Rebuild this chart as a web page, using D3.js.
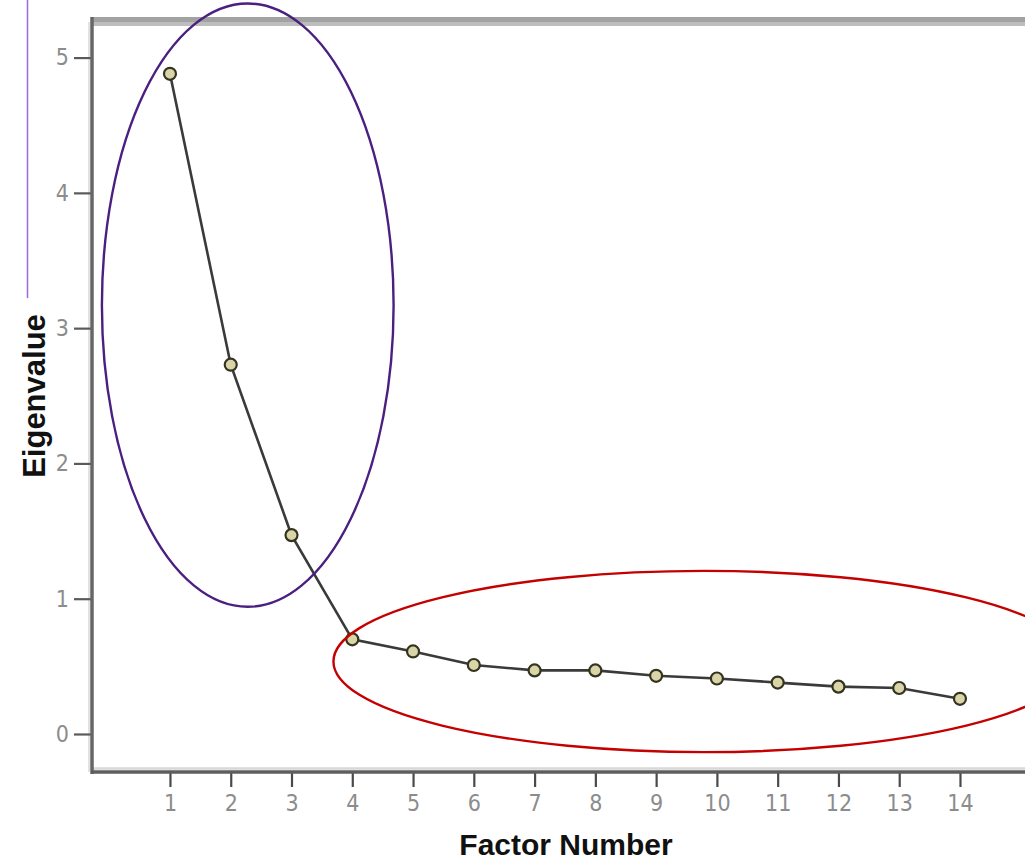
<!DOCTYPE html>
<html>
<head>
<meta charset="utf-8">
<script src="https://cdn.jsdelivr.net/npm/d3@7"></script>
<style>
  body { margin: 0; background: #fff; }
  svg { display: block; }
</style>
</head>
<body>
<svg id="chart" width="1025" height="860"></svg>
<script>
// scree plot data
var factors = [1, 2, 3, 4, 5, 6, 7, 8, 9, 10, 11, 12, 13, 14];
var eigenvalues = [4.88, 2.73, 1.47, 0.70, 0.61, 0.51, 0.47, 0.47, 0.43, 0.41, 0.38, 0.35, 0.34, 0.26];
var yTicks = [0, 1, 2, 3, 4, 5];

// the two circled groups (center + radii in data units)
var groupCx = [2.28, 9.79];
var groupCy = [3.17, 0.536];
var groupRx = [2.40, 6.10];
var groupRy = [2.23, 0.67];
var groupColors = ["#4a1f80", "#c40000"];

var svg = d3.select("#chart");

// plot frame in pixels (note: "top" is taken by window.top, so don't use it)
var pLeft = 92, pRight = 1025, pTop = 17, pBottom = 772;

var x = d3.scaleLinear().domain([-0.283, 15.07]).range([pLeft, pRight]);
var y = d3.scaleLinear().domain([-0.281, 5.30]).range([pBottom, pTop]);

var tickFont = "'DejaVu Sans Condensed', 'Liberation Sans Narrow', Arial, sans-serif";

// little purple line on far left (leftover from the source image)
svg.append("line")
  .attr("x1", 27.5).attr("x2", 27.5)
  .attr("y1", 0).attr("y2", 298)
  .attr("stroke", "#9a6ad6").attr("stroke-width", 1.5);

// top border, two shades of gray
svg.append("rect").attr("x", pLeft - 1).attr("y", pTop).attr("width", pRight - pLeft + 1).attr("height", 5).attr("fill", "#a2a2a2");
svg.append("rect").attr("x", pLeft - 1).attr("y", pTop + 5).attr("width", pRight - pLeft + 1).attr("height", 4).attr("fill", "#bdbdbd");

// light halo lines next to axes
svg.append("line").attr("x1", pLeft - 3).attr("x2", pLeft - 3).attr("y1", pTop + 5).attr("y2", pBottom)
  .attr("stroke", "#e2e2e2").attr("stroke-width", 2);
svg.append("line").attr("x1", pLeft).attr("x2", pRight).attr("y1", pBottom - 3.5).attr("y2", pBottom - 3.5)
  .attr("stroke", "#d8d8d8").attr("stroke-width", 2.5);

// y axis
var yAxis = svg.append("g")
  .attr("transform", "translate(" + pLeft + ",0)")
  .call(d3.axisLeft(y).tickValues(yTicks).tickSize(18).tickPadding(5).tickFormat(d3.format("d")));
yAxis.select(".domain").remove();
yAxis.selectAll(".tick line").attr("stroke", "#5a5a5a").attr("stroke-width", 2.2);
yAxis.selectAll(".tick text")
  .attr("fill", "#8c8c8c")
  .style("font-family", tickFont)
  .style("font-size", "23px");

// x axis
var xAxis = svg.append("g")
  .attr("transform", "translate(0," + pBottom + ")")
  .call(d3.axisBottom(x).tickValues(factors).tickSize(15).tickPadding(8).tickFormat(d3.format("d")));
xAxis.select(".domain").remove();
xAxis.selectAll(".tick line").attr("stroke", "#4a4a4a").attr("stroke-width", 2.2);
xAxis.selectAll(".tick text")
  .attr("fill", "#8c8c8c")
  .style("font-family", tickFont)
  .style("font-size", "23px");

// axis lines drawn on top
svg.append("line").attr("x1", pLeft).attr("x2", pLeft).attr("y1", pTop).attr("y2", pBottom + 2)
  .attr("stroke", "#666").attr("stroke-width", 3.5);
svg.append("line").attr("x1", pLeft - 1).attr("x2", pRight).attr("y1", pBottom).attr("y2", pBottom)
  .attr("stroke", "#5e5e5e").attr("stroke-width", 3.5);

// axis titles
svg.append("text")
  .attr("transform", "translate(45,396) rotate(-90)")
  .attr("text-anchor", "middle")
  .style("font-family", "Arial, 'Liberation Sans', sans-serif")
  .style("font-weight", "bold")
  .style("font-size", "31px")
  .attr("fill", "#111")
  .text("Eigenvalue");

svg.append("text")
  .attr("x", 566).attr("y", 855)
  .attr("text-anchor", "middle")
  .style("font-family", "Arial, 'Liberation Sans', sans-serif")
  .style("font-weight", "bold")
  .style("font-size", "30px")
  .attr("fill", "#111")
  .text("Factor Number");

// the scree line
var pts = factors.map(function(f, i) { return [f, eigenvalues[i]]; });
var line = d3.line().x(d => x(d[0])).y(d => y(d[1]));

svg.append("path")
  .datum(pts)
  .attr("fill", "none")
  .attr("stroke", "#3a3a3a")
  .attr("stroke-width", 2.6)
  .attr("d", line);

svg.selectAll("circle.pt")
  .data(pts)
  .join("circle")
  .attr("class", "pt")
  .attr("cx", d => x(d[0]))
  .attr("cy", d => y(d[1]))
  .attr("r", 6)
  .attr("fill", "#d9d5a8")
  .attr("stroke", "#34331f")
  .attr("stroke-width", 2.2);

// ellipses around the groups
var groups = groupCx.map(function(c, i) {
  return { cx: c, cy: groupCy[i], rx: groupRx[i], ry: groupRy[i], color: groupColors[i] };
});
svg.selectAll("ellipse.grp")
  .data(groups)
  .join("ellipse")
  .attr("class", "grp")
  .attr("cx", d => x(d.cx))
  .attr("cy", d => y(d.cy))
  .attr("rx", d => x(d.rx) - x(0))
  .attr("ry", d => y(0) - y(d.ry))
  .attr("fill", "none")
  .attr("stroke", d => d.color)
  .attr("stroke-width", 2.4);
</script>
</body>
</html>
